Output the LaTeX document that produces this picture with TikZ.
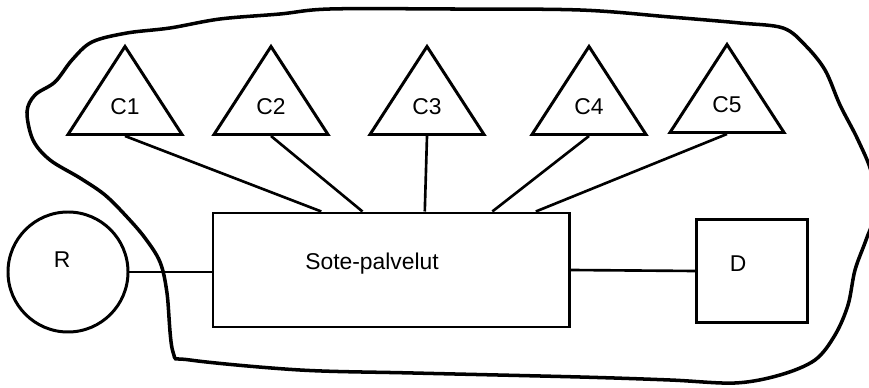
\documentclass[tikz,border=0pt]{standalone}
\usepackage{fontspec}
\setmainfont{Liberation Sans}
\usetikzlibrary{shapes.geometric,calc}

\begin{document}
\begin{tikzpicture}[x=0.2mm, y=-0.2mm, font=\fontsize{13}{15}\selectfont,
    tri/.style={draw, line width=1.7pt, isosceles triangle, isosceles triangle stretches,
        shape border rotate=90, minimum width=22.8mm, minimum height=17.6mm, inner sep=0pt,
        anchor=lower side, text depth=0.8mm},
    unit/.style={draw, line width=1.7pt, rectangle, inner sep=0pt},
    link/.style={line width=1.5pt}]
    \useasboundingbox (0,0) rectangle (869,388);

    % Outer boundary
    \draw[line width=2pt] plot[smooth cycle, tension=0.55] coordinates {
        (173,352) (167,293) (160,262) (145,238) (127,217) (105,195) (80,178) (50,160)
        (33,140) (27,112) (35,95) (55,82) (72,60) (92,42) (127,33) (170,28) (220,19)
        (280,14) (330,9) (450,9) (580,10) (670,17) (740,23) (783,28) (805,45) (825,70)
        (840,105) (858,140) (872,175) (874,215) (866,240) (855,270) (848,305) (835,335)
        (815,360) (780,375) (735,383) (670,380) (580,377) (413,373) (300,370) (190,360)};

    % Main unit and the ones around it
    \node[unit, minimum width=71.2mm, minimum height=22.8mm,
        label={[xshift=-3.8mm, yshift=1.2mm]center:Sote-palvelut}] (sote) at (391,270) {};
    \node[unit, circle, minimum size=24mm,
        label={[xshift=-1.2mm, yshift=2.4mm]center:R}] (r) at (68,272) {};
    \node[unit, minimum width=22.2mm, minimum height=20.6mm,
        label={[xshift=-2.8mm, yshift=1.4mm]center:D}] (d) at (752,271) {};

    % Triangles
    \node[tri] (c1) at (125,136) {C1};
    \node[tri] (c2) at (271,136) {C2};
    \node[tri] (c3) at (427,136) {C3};
    \node[tri] (c4) at (589,136) {C4};
    \node[tri] (c5) at (727,134) {C5};

    % Connections
    \draw[link] (c1.south) -- (sote.140);
    \draw[link] (c2.south) -- (sote.116);
    \draw[link] (c3.south) -- (sote.60);
    \draw[link] (c4.south) -- (sote.30);
    \draw[link] (c5.south) -- (sote.22.7);
    \draw[link] (r.east) -- (r.east -| sote.west);
    \draw[link] (sote.east) -- (d.west);
\end{tikzpicture}
\end{document}
